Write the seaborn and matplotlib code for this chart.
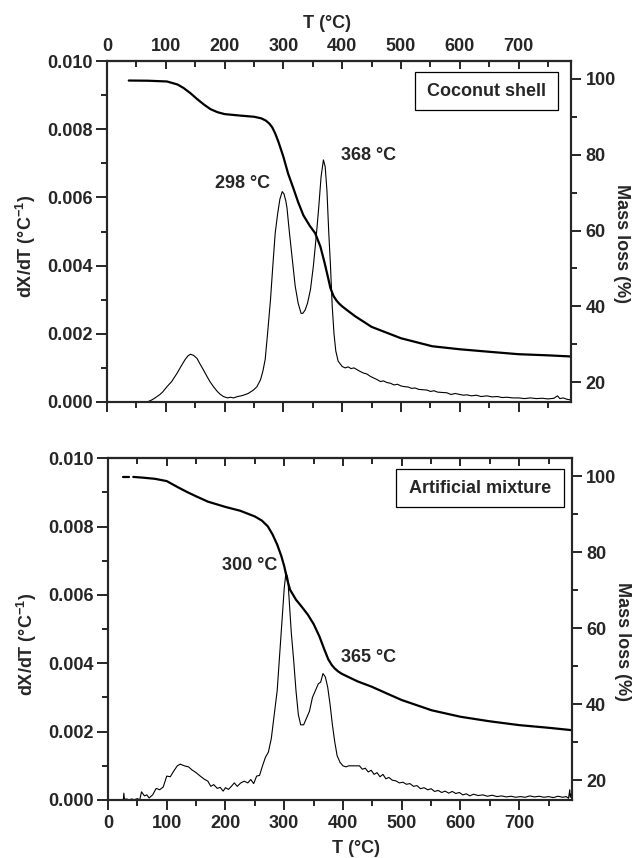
import matplotlib
matplotlib.use("Agg")
import matplotlib.pyplot as plt
from matplotlib.ticker import MultipleLocator
from matplotlib.patches import Rectangle
import seaborn as sns
import pandas as pd

# ---------------- data ----------------
# Coconut shell: mass loss (%) vs T
cs_mass_T = [37, 70, 102, 120, 130, 142, 153, 165, 176, 188, 200, 227, 250, 262, 270, 276, 281,
             286, 291, 296, 300, 308, 317, 325, 334, 345, 354, 363, 370, 376, 380, 385, 390, 395,
             400, 410, 422, 450, 500, 553, 600, 653, 700, 750, 789]
cs_mass = [99.55, 99.5, 99.3, 98.5, 97.6, 96.2, 94.7, 93.2, 92.0, 91.2, 90.7, 90.3, 90.0, 89.6,
           89.0, 88.2, 87.2, 85.6, 83.6, 81.3, 79.4, 75.0, 71.1, 67.5, 64.0, 61.2, 59.3, 55.7,
           51.5, 47.5, 44.8, 42.8, 41.6, 40.7, 40.0, 38.8, 37.4, 34.6, 31.6, 29.5, 28.7, 28.0,
           27.4, 27.1, 26.8]

# Coconut shell: dX/dT vs T
cs_dtg_T = [68, 75, 80, 85, 90, 95, 102, 110, 119, 126, 133, 138, 142, 147, 153, 158, 164, 170,
            175, 181, 188, 193, 198, 205, 210, 215, 222, 228, 232, 240, 249, 255, 261, 265, 269,
            273, 278, 282, 286, 290, 294, 298, 301, 304, 306, 310, 315, 320, 325, 330, 333, 337,
            341, 346, 351, 356, 360, 364, 368, 371, 374, 377, 380, 383, 386, 389, 393, 400, 405,
            410, 415, 420, 425, 430, 436, 442, 448, 454, 459, 465, 470, 476, 482, 488, 494, 500,
            506, 512, 518, 524, 530, 537, 544, 550, 556, 562, 570, 578, 585, 592, 600, 606, 612,
            620, 628, 636, 646, 655, 664, 672, 680, 690, 700, 710, 720, 730, 740, 750, 760, 766,
            770, 776, 782, 789]
cs_dtg = [0.0, 0.00005, 0.0001, 0.00016, 0.00022, 0.0003, 0.00045, 0.0006, 0.00084, 0.00105,
          0.00125, 0.00136, 0.0014, 0.00137, 0.00128, 0.00112, 0.00094, 0.00075, 0.0006, 0.00045,
          0.0003, 0.00022, 0.00016, 0.00012, 0.00014, 0.00012, 0.00016, 0.00018, 0.0002, 0.00025,
          0.00035, 0.00045, 0.00065, 0.0009, 0.00125, 0.002, 0.003, 0.004, 0.00495, 0.0055,
          0.00595, 0.00617, 0.0061, 0.0059, 0.0057, 0.005, 0.0042, 0.0034, 0.0029, 0.0026,
          0.0026, 0.0027, 0.0029, 0.0033, 0.004, 0.0049, 0.0057, 0.0066, 0.0071, 0.0069, 0.0062,
          0.005, 0.004, 0.0028, 0.002, 0.0015, 0.0012, 0.00104, 0.001, 0.00103, 0.00098, 0.001,
          0.00095, 0.0009, 0.00085, 0.00082, 0.00075, 0.0007, 0.00066, 0.0006, 0.00062, 0.00057,
          0.00055, 0.0005, 0.00052, 0.00047, 0.00045, 0.00044, 0.0004, 0.00041, 0.00037, 0.00036,
          0.00035, 0.00031, 0.00033, 0.00029, 0.00028, 0.00027, 0.00022, 0.00025, 0.00022, 0.0002,
          0.00021, 0.00018, 0.0002, 0.00016, 0.00018, 0.00015, 0.00016, 0.00013, 0.00014, 0.00012,
          0.00012, 0.0001, 0.00012, 0.0001, 0.00011, 0.00009, 0.00011, 0.00018, 0.0001, 0.00012,
          0.00008, 0.00006]

# Artificial mixture: mass loss (%) vs T (short dash at the start, then the curve)
am_mass_dash_T = [26, 36]
am_mass_dash = [99.9, 99.9]
am_mass_T = [43, 60, 80, 100, 120, 135, 150, 170, 200, 225, 250, 262, 272, 280, 288, 295, 300,
             305, 310, 320, 330, 340, 350, 360, 368, 375, 381, 386, 392, 398, 410, 425, 449, 475,
             500, 551, 600, 650, 700, 750, 788]
am_mass = [99.8, 99.6, 99.3, 98.7, 97.0, 95.8, 94.7, 93.3, 91.9, 90.9, 89.4, 88.3, 86.8, 84.7,
           82.0, 79.0, 76.3, 72.8, 70.1, 67.5, 65.6, 63.6, 61.1, 57.8, 54.5, 51.8, 50.3, 49.4,
           48.6, 48.0, 47.1, 46.0, 44.6, 42.8, 41.1, 38.4, 36.7, 35.5, 34.5, 33.8, 33.2]

# Artificial mixture: dX/dT vs T
am_dtg_T = [26, 27, 28, 32, 36, 40, 45, 50, 54, 57, 62, 66, 70, 76, 82, 88, 94, 100, 106, 112,
            118, 123, 130, 137, 143, 150, 157, 163, 170, 175, 180, 186, 191, 196, 200, 205, 210,
            215, 220, 226, 232, 238, 243, 248, 253, 258, 263, 268, 273, 278, 283, 288, 292, 296,
            300, 303, 306, 309, 312, 316, 320, 324, 328, 333, 338, 343, 348, 353, 358, 362, 366,
            370, 374, 378, 382, 386, 390, 395, 400, 405, 410, 420, 428, 433, 438, 443, 448, 453,
            458, 463, 468, 473, 478, 484, 490, 496, 502, 508, 514, 520, 526, 532, 538, 544, 550,
            556, 562, 568, 574, 580, 586, 592, 598, 604, 610, 616, 622, 630, 638, 646, 654, 662,
            670, 678, 686, 694, 702, 710, 718, 726, 734, 742, 750, 758, 766, 774, 780, 784, 786,
            787, 789]
am_dtg = [0.0, 0.0002, 0.00002, 0.00003, 0.0, 0.00003, 0.00001, 0.00004, 0.0, 0.00024, 0.00012,
          0.00015, 0.00006, 0.00015, 0.00034, 0.0003, 0.00038, 0.0007, 0.00068, 0.00085, 0.001,
          0.00105, 0.001, 0.00097, 0.00088, 0.0008, 0.0007, 0.00062, 0.00055, 0.0004, 0.00045,
          0.00034, 0.00037, 0.00026, 0.00036, 0.00031, 0.0004, 0.0005, 0.0004, 0.0005, 0.00055,
          0.0005, 0.0006, 0.00048, 0.0007, 0.00072, 0.001, 0.00125, 0.0014, 0.0018, 0.0025,
          0.0032, 0.0042, 0.0052, 0.0062, 0.00667, 0.0065, 0.0057, 0.0049, 0.0041, 0.0032, 0.0025,
          0.0022, 0.0022, 0.0024, 0.0026, 0.003, 0.0032, 0.0034, 0.00345, 0.0037, 0.0036, 0.0033,
          0.0028, 0.0022, 0.0017, 0.0013, 0.0011, 0.001, 0.00097, 0.001, 0.001, 0.001, 0.0009,
          0.00093, 0.00082, 0.00087, 0.00075, 0.0008, 0.00068, 0.00075, 0.00062, 0.00066, 0.00058,
          0.00056, 0.0005, 0.00052, 0.00046, 0.00048, 0.0004, 0.00042, 0.00033, 0.00036, 0.0003,
          0.00033, 0.00025, 0.00028, 0.00022, 0.00026, 0.0002, 0.00025, 0.00019, 0.00022, 0.00015,
          0.00018, 0.00012, 0.00017, 0.00013, 0.00015, 0.00011, 0.00014, 0.0001, 0.00012, 0.00009,
          0.00011, 0.00008, 0.0001, 0.00008, 0.00012, 0.00009, 0.00011, 0.00008, 0.0001, 0.00007,
          0.00011, 0.00008, 0.0001, 0.00005, 0.0003, 0.00008, 0.0002]

panel_names = ["Coconut shell", "Artificial mixture"]
peak_labels = [["298 °C", "368 °C"], ["300 °C", "365 °C"]]
peak_label_pos = [[(230, 0.00642), (444, 0.00724)], [(241, 0.00685), (444, 0.00418)]]
x_ticks = [0, 100, 200, 300, 400, 500, 600, 700]
left_ticks = [0.000, 0.002, 0.004, 0.006, 0.008, 0.010]
right_ticks = [20, 40, 60, 80, 100]

# ---------------- style ----------------
sns.set_style("ticks")
FONT = "Liberation Sans"
plt.rcParams["font.family"] = [FONT, "DejaVu Sans"]
plt.rcParams["font.weight"] = "bold"
plt.rcParams["font.size"] = 13
plt.rcParams["axes.labelweight"] = "bold"
plt.rcParams["mathtext.fontset"] = "custom"
plt.rcParams["mathtext.rm"] = "Liberation Sans:bold"
plt.rcParams["mathtext.bf"] = "Liberation Sans:bold"
plt.rcParams["mathtext.default"] = "bf"
plt.rcParams["axes.linewidth"] = 1.5

fig = plt.figure(figsize=(6.43, 8.58), dpi=100)
W, H = 643.0, 858.0
ax_top = fig.add_axes([107 / W, 1 - 402 / H, 464 / W, 341 / H])
ax_bot = fig.add_axes([108 / W, 1 - 800 / H, 463.5 / W, 341.7 / H])

XMAX = 789
TL = 13

def style_left(ax):
    ax.set_xlim(0, XMAX)
    ax.set_ylim(0, 0.010)
    ax.set_yticks(left_ticks)
    ax.yaxis.set_minor_locator(MultipleLocator(0.001))
    ax.set_yticklabels([f"{v:.3f}" for v in left_ticks])
    ax.xaxis.set_major_locator(MultipleLocator(100))
    ax.xaxis.set_minor_locator(MultipleLocator(50))
    ax.tick_params(axis="y", which="major", direction="out", length=8, width=1.4,
                   labelsize=TL, pad=2.5, left=True, right=False)
    ax.tick_params(axis="y", which="minor", direction="out", length=4.5, width=1.4,
                   left=True, right=False)
    ax.tick_params(axis="x", which="major", direction="out", length=7, width=1.4,
                   labelsize=TL, pad=4, top=False)
    ax.tick_params(axis="x", which="minor", direction="out", length=4.5, width=1.4, top=False)
    for s in ax.spines.values():
        s.set_linewidth(1.5)
        s.set_visible(True)
    ax.set_ylabel("dX/dT (°C$^{-1}$)", fontsize=13, fontweight="bold",
                  rotation=90, va="center", ha="center")
    ax.yaxis.set_label_coords(-0.175, 0.455)

def style_right(ax2):
    ax2.set_ylim(14.8, 104.7)
    ax2.set_yticks(right_ticks)
    ax2.yaxis.set_minor_locator(MultipleLocator(10))
    ax2.tick_params(axis="y", which="major", direction="out", length=7.5, width=1.4,
                    labelsize=TL, pad=3, right=True, left=False)
    ax2.tick_params(axis="y", which="minor", direction="out", length=4.5, width=1.4,
                    right=True, left=False)
    ax2.set_ylabel("Mass loss (%)", fontsize=13, fontweight="bold",
                   rotation=270, va="center", ha="center")
    ax2.yaxis.set_label_position("right")
    ax2.yaxis.set_label_coords(1.128, 0.464)
    for s in ax2.spines.values():
        s.set_linewidth(1.5)

def add_top_ticks(ax, labels):
    sec = ax.secondary_xaxis("top")
    sec.xaxis.set_major_locator(MultipleLocator(100))
    sec.xaxis.set_minor_locator(MultipleLocator(50))
    sec.tick_params(axis="x", which="major", direction="in", length=6, width=1.4,
                    labelsize=TL, pad=4.5)
    sec.tick_params(axis="x", which="minor", direction="in", length=4, width=1.4)
    sec.spines["top"].set_linewidth(1.5)
    if labels:
        sec.set_xticks(x_ticks)
        sec.set_xticklabels([str(t) for t in x_ticks])
    else:
        sec.set_xticklabels([])
    return sec

def add_box(ax, text, x0, x1, y0, y1):
    ax.add_patch(Rectangle((x0, y0), x1 - x0, y1 - y0, transform=ax.transAxes,
                           fill=True, facecolor="white", edgecolor="black", lw=0.9, zorder=5))
    ax.text((x0 + x1) / 2, (y0 + y1) / 2, text, transform=ax.transAxes, ha="center",
            va="center", fontsize=13, fontweight="bold", zorder=6)

# ---------------- top panel ----------------
df_cs_dtg = pd.DataFrame({"T": cs_dtg_T, "dtg": cs_dtg})
df_cs_mass = pd.DataFrame({"T": cs_mass_T, "mass": cs_mass})

sns.lineplot(data=df_cs_dtg, x="T", y="dtg", ax=ax_top, color="black", lw=0.8,
             estimator=None, sort=False)
style_left(ax_top)
ax_top.set_xticks(x_ticks)
ax_top.set_xticklabels([])
ax_top.set_xlabel("")
add_top_ticks(ax_top, True)
fig.text(327 / W, 1 - 24 / H, "T (°C)", ha="center", va="center", fontsize=13,
         fontweight="bold")

ax_top2 = ax_top.twinx()
sns.lineplot(data=df_cs_mass, x="T", y="mass", ax=ax_top2, color="black", lw=1.6,
             estimator=None, sort=False)
style_right(ax_top2)
ax_top2.set_xlim(0, XMAX)

for lab, (tx, ty) in zip(peak_labels[0], peak_label_pos[0]):
    ax_top.text(tx, ty, lab, ha="center", va="center", fontsize=13, fontweight="bold")
add_box(ax_top2, panel_names[0], 0.664, 0.972, 0.856, 0.967)

# ---------------- bottom panel ----------------
df_am_dtg = pd.DataFrame({"T": am_dtg_T, "dtg": am_dtg})
df_am_mass = pd.DataFrame({"T": am_mass_T, "mass": am_mass})
df_am_dash = pd.DataFrame({"T": am_mass_dash_T, "mass": am_mass_dash})

sns.lineplot(data=df_am_dtg, x="T", y="dtg", ax=ax_bot, color="black", lw=0.8,
             estimator=None, sort=False)
style_left(ax_bot)
ax_bot.set_xticks(x_ticks)
ax_bot.set_xticklabels([str(t) for t in x_ticks])
ax_bot.set_xlabel("T (°C)", fontsize=13, fontweight="bold", va="center", ha="center")
ax_bot.xaxis.set_label_coords(0.535, -0.143)
add_top_ticks(ax_bot, False)

ax_bot2 = ax_bot.twinx()
sns.lineplot(data=df_am_mass, x="T", y="mass", ax=ax_bot2, color="black", lw=1.6,
             estimator=None, sort=False)
sns.lineplot(data=df_am_dash, x="T", y="mass", ax=ax_bot2, color="black", lw=1.6,
             estimator=None, sort=False)
style_right(ax_bot2)
ax_bot2.set_xlim(0, XMAX)

for lab, (tx, ty) in zip(peak_labels[1], peak_label_pos[1]):
    ax_bot.text(tx, ty, lab, ha="center", va="center", fontsize=13, fontweight="bold")
add_box(ax_bot2, panel_names[1], 0.621, 0.983, 0.857, 0.968)

fig.savefig("out.png", dpi=100)
